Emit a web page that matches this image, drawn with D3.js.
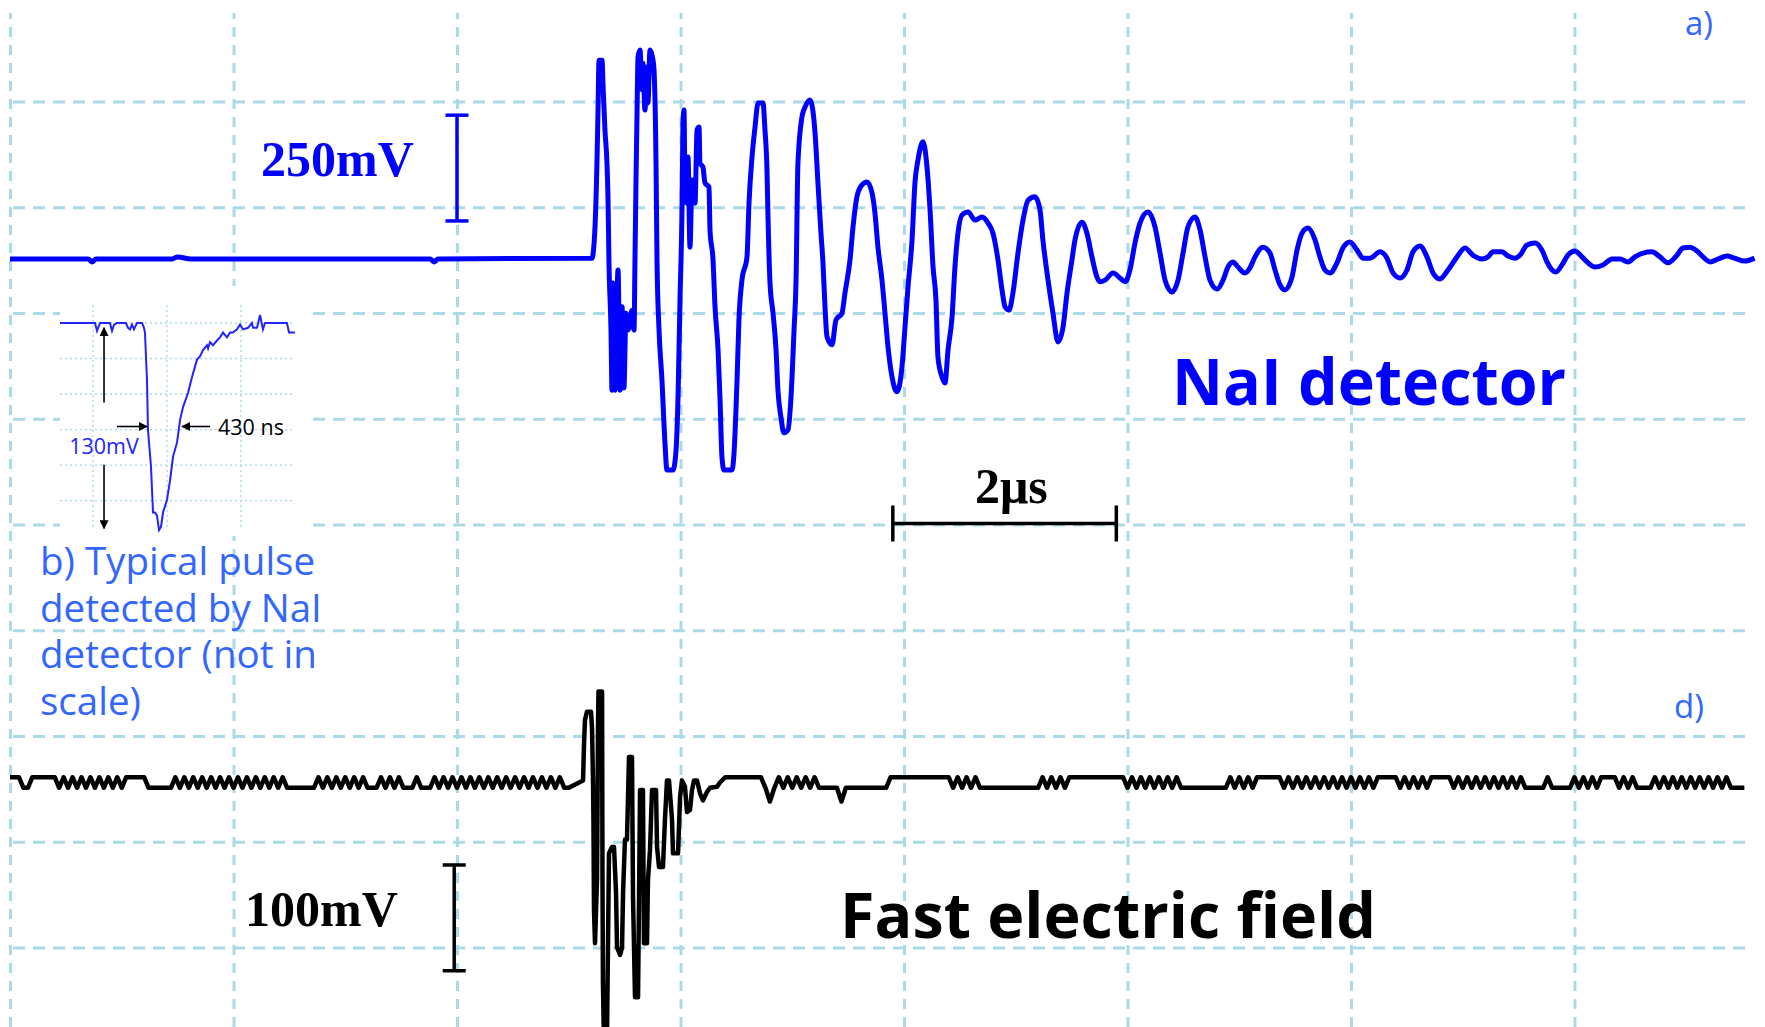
<!DOCTYPE html>
<html>
<head>
<meta charset="utf-8">
<script src="https://cdn.jsdelivr.net/npm/d3@7"></script>
<style>
  body { margin: 0; background: #fff; }
  svg { display: block; }
</style>
</head>
<body>
<script>
// NaI detector record: [time in µs, mV]
var naiTrace = [
  [0,0],[0.70,0],[0.734,-7],[0.77,0],[1.45,0],[1.50,5],[1.62,0],[3.76,0],[3.794,-7],[3.83,0],[5.208,2],
  [5.235,76],[5.253,234],[5.262,352],[5.271,470],[5.298,470],[5.306,416],[5.324,305],[5.342,227],[5.351,147],
  [5.360,-9],[5.378,-168],[5.387,-310],[5.396,-57],[5.414,-310],[5.441,-26],[5.459,-310],[5.477,-113],[5.494,-305],
  [5.512,-128],[5.530,-168],[5.566,-121],[5.584,-168],[5.593,5],[5.602,187],[5.611,345],[5.620,478],[5.638,494],
  [5.655,400],[5.664,463],[5.682,352],[5.700,454],[5.709,369],[5.727,494],[5.754,470],[5.763,447],[5.781,227],
  [5.790,-9],[5.808,-168],[5.834,-286],[5.861,-435],[5.879,-499],[5.933,-499],[5.960,-452],[5.978,-326],[5.996,-90],
  [6.013,109],[6.022,321],[6.031,352],[6.040,187],[6.058,132],[6.067,241],[6.085,28],[6.103,187],[6.130,132],
  [6.148,305],[6.166,312],[6.174,227],[6.201,217],[6.219,180],[6.255,170],[6.264,69],[6.291,-2],[6.309,-113],
  [6.336,-215],[6.353,-326],[6.371,-468],[6.389,-499],[6.461,-499],[6.479,-459],[6.506,-286],[6.523,-144],
  [6.550,-50],[6.595,5],[6.613,132],[6.640,241],[6.667,312],[6.694,369],[6.738,369],[6.756,305],[6.774,210],
  [6.783,99],[6.801,-57],[6.828,-128],[6.855,-215],[6.872,-310],[6.899,-374],[6.926,-411],[6.962,-404],
  [6.989,-326],[7.016,-168],[7.034,-50],[7.051,227],[7.087,336],[7.114,359],[7.159,376],[7.204,298],[7.230,180],
  [7.257,61],[7.275,-9],[7.293,-113],[7.311,-184],[7.356,-203],[7.391,-144],[7.445,-128],[7.472,-80],[7.517,-2],
  [7.544,76],[7.579,147],[7.624,175],[7.669,182],[7.714,156],[7.740,109],[7.767,28],[7.803,-50],[7.830,-128],
  [7.857,-208],[7.893,-279],[7.937,-314],[7.982,-255],[8.009,-161],[8.036,-66],[8.072,45],[8.098,180],[8.125,234],
  [8.170,277],[8.206,217],[8.233,116],[8.260,-19],[8.286,-97],[8.304,-232],[8.340,-279],[8.367,-293],[8.394,-215],
  [8.430,-137],[8.456,-19],[8.483,61],[8.519,104],[8.573,111],[8.635,92],[8.698,99],[8.752,85],[8.796,61],
  [8.841,-2],[8.877,-73],[8.904,-113],[8.940,-121],[8.975,-80],[9.020,14],[9.065,92],[9.110,139],[9.172,147],
  [9.217,116],[9.243,45],[9.289,-50],[9.333,-128],[9.378,-196],[9.423,-161],[9.459,-80],[9.503,-2],[9.530,45],
  [9.593,87],[9.637,61],[9.682,5],[9.727,-43],[9.754,-54],[9.799,-50],[9.870,-33],[9.933,-45],[9.978,-54],
  [10.022,-26],[10.067,38],[10.112,85],[10.183,111],[10.246,76],[10.291,14],[10.336,-50],[10.398,-78],
  [10.452,-50],[10.497,14],[10.541,76],[10.604,99],[10.649,69],[10.694,5],[10.738,-50],[10.801,-71],[10.855,-50],
  [10.899,-19],[10.944,-7],[10.989,-19],[11.051,-33],[11.096,-21],[11.141,5],[11.213,28],[11.275,14],[11.320,-26],
  [11.365,-61],[11.409,-73],[11.472,-43],[11.517,21],[11.561,61],[11.615,73],[11.678,45],[11.722,5],[11.767,-26],
  [11.812,-33],[11.875,-9],[11.928,26],[11.991,40],[12.054,21],[12.107,2],[12.170,2],[12.260,17],[12.322,2],
  [12.376,-33],[12.438,-45],[12.501,-26],[12.555,17],[12.617,31],[12.680,5],[12.734,-33],[12.796,-47],[12.868,-26],
  [12.949,5],[13.020,26],[13.091,9],[13.172,0],[13.226,5],[13.271,17],[13.351,17],[13.405,7],[13.468,2],
  [13.512,9],[13.575,33],[13.647,38],[13.709,21],[13.754,-7],[13.799,-26],[13.834,-31],[13.888,-14],[13.941,9],
  [14.004,19],[14.067,5],[14.121,-9],[14.183,-19],[14.255,-14],[14.336,0],[14.407,0],[14.479,-7],[14.541,5],
  [14.613,14],[14.693,17],[14.765,5],[14.836,-9],[14.917,9],[14.970,26],[15.034,28],[15.096,19],[15.150,5],
  [15.213,-7],[15.284,0],[15.365,7],[15.432,2],[15.522,-5],[15.611,2]
]

// fast electric field burst: [time in µs, mV]
var fieldBurst = [
  [5.128,2],[5.136,34],[5.145,59],[5.163,67],[5.199,67],[5.208,52],[5.217,2],[5.221,-35],[5.226,-121],[5.235,-152],
  [5.253,-92],[5.262,52],[5.266,86],[5.298,86],[5.302,-92],[5.306,-190],[5.315,-243],[5.342,-243],[5.351,-156],
  [5.360,-67],[5.387,-61],[5.405,-61],[5.423,-104],[5.432,-156],[5.459,-163],[5.477,-156],[5.486,-104],[5.503,-54],
  [5.521,-54],[5.539,24],[5.566,24],[5.575,-108],[5.593,-203],[5.620,-203],[5.629,-108],[5.638,-7],[5.664,-7],
  [5.673,-152],[5.700,-152],[5.709,-92],[5.727,-64],[5.745,-7],[5.781,-7],[5.790,-61],[5.808,-80],[5.843,-80],
  [5.861,-35],[5.879,2],[5.897,2],[5.924,-35],[5.933,-67],[5.978,-67],[5.996,-14],[6.013,2],[6.040,-4],
  [6.058,-28],[6.085,-26],[6.103,-7],[6.121,2],[6.148,2],[6.174,-10],[6.201,-17],[6.237,-9],[6.264,-5],
  [6.327,-4],[6.353,0]
]

// field noise, one sample every 0.04 µs (H = +5 mV, L = -5 mV, D = -18 mV)
var fieldNoiseBefore =            // from 0 µs
  "HHHLLHHHHHHLHLHLHLHLHLHLHLHHHHHLLLLLLHLHLHLHLHLHLHLHLHLHLHLHLHLLLLLLL" +
  "HLHLHLHLHLHLLLHLHLHLLLHLLLHLHLHLHLHLHLHLHLHLHLHLHLHLHLHLL"
var fieldNoiseAfter =             // from 6.4 µs
  "HHHHHHHHHLDLHLHLHLHLHLLLLLDLLLLLLLLLLHHHHHHHHHHHHHHLHLHLHLLLLLLLLLLLLLL" +
  "HLHLHLHHHHHHHHHHHHHLHLHLHLHLHLHLLLLLLLLLLLHLHLHLHHHHHHLHLHLHLHLHLHLHLHLHLHLH" +
  "HHHHLHLHLHLHHHHHLHLHLHLHLHLHLHLHLLLLLHLLLLLHLHLHLHHHHLHLHLLLLHLHLHLHLHLHLHLHLHLLLL"
var noiseLevels = { H: 5, L: -5, D: -18 }
var sampleStep = 0.04
var afterStart = 6.4

// inset b): typical NaI pulse, [time in ns, mV]
var insetPulse = [
  [0,0],[430,0],[455,-5],[492,0],[614,0],[639,-5],[664,-1],[700,0],[811,0],[836,-3],[860,-4],[885,-1],
  [909,-4],[946,0],[1008,0],[1032,-3],[1044,-6],[1069,-36],[1081,-67],[1118,-90],[1143,-119],[1167,-119],
  [1192,-121],[1217,-130],[1241,-128],[1266,-119],[1315,-111],[1352,-99],[1389,-84],[1438,-75],[1475,-61],
  [1511,-53],[1573,-44],[1622,-34],[1683,-23],[1720,-21],[1757,-17],[1806,-14],[1819,-16],[1843,-12],
  [1880,-14],[1929,-11],[1966,-9],[2003,-6],[2052,-9],[2089,-6],[2126,-6],[2175,-4],[2212,-1],[2249,-4],
  [2310,-3],[2359,0],[2372,-3],[2421,-3],[2458,5],[2494,-4],[2519,0],[2789,0],[2814,-6],[2888,-6]
]
var insetXTicks = [406, 1315, 2224]
var insetYTicks = [0, -22.3, -44.6, -66.9, -89.2, -111.5]

// oscilloscope graticule
var gridTimes = [0, 2, 4, 6, 8, 10, 12, 14]   // µs
var gridDivs = [0, 1, 2, 3, 4, 5, 6, 7, 8]

var width = 1765
var height = 1027

var svg = d3.select("body").append("svg")
  .attr("width", width)
  .attr("height", height)

var defs = svg.append("defs")
defs.append("marker")
  .attr("id", "head")
  .attr("viewBox", "0 0 10 10")
  .attr("refX", 9).attr("refY", 5)
  .attr("markerWidth", 9).attr("markerHeight", 9)
  .attr("markerUnits", "userSpaceOnUse")
  .attr("orient", "auto")
  .append("path").attr("d", "M0,0 L10,5 L0,10 z").attr("fill", "#000")

// scales
var x = d3.scaleLinear().domain([0, 16]).range([10, 1798])
var yDiv = d3.scaleLinear().domain([0, 8]).range([101.5, 947.5])
var yNaI = d3.scaleLinear().domain([0, 250]).range([259, 153.25])
var yField = d3.scaleLinear().domain([0, 100]).range([782.5, 676.75])

var gridColor = "#acd9e6"

// vertical grid
var gx = svg.append("g")
  .attr("transform", "translate(0," + height + ")")
  .call(d3.axisTop(x).tickValues(gridTimes).tickSize(height - 13).tickFormat(""))
gx.select(".domain").remove()
gx.selectAll("line")
  .attr("stroke", gridColor)
  .attr("stroke-width", 3)
  .attr("stroke-dasharray", "10,8")

// horizontal grid
var gy = svg.append("g")
  .attr("transform", "translate(13,0)")
  .call(d3.axisLeft(yDiv).tickValues(gridDivs).tickSize(-(1750 - 13)).tickFormat(""))
gy.select(".domain").remove()
gy.selectAll("line")
  .attr("stroke", gridColor)
  .attr("stroke-width", 3)
  .attr("stroke-dasharray", "12,8")

// NaI trace
var naiLine = d3.line()
  .x(d => x(d[0]))
  .y(d => yNaI(d[1]))
  .curve(d3.curveMonotoneX)

svg.append("path")
  .datum(naiTrace)
  .attr("d", naiLine)
  .attr("fill", "none")
  .attr("stroke", "#0000ff")
  .attr("stroke-width", 5)
  .attr("stroke-linejoin", "round")

// fast electric field trace
var fieldData = []
fieldNoiseBefore.split("").forEach(function (c, i) {
  fieldData.push([i * sampleStep, noiseLevels[c]])
})
fieldBurst.forEach(function (d) { fieldData.push(d) })
fieldNoiseAfter.split("").forEach(function (c, i) {
  fieldData.push([afterStart + i * sampleStep, noiseLevels[c]])
})

var fieldLine = d3.line()
  .x(d => x(d[0]))
  .y(d => yField(d[1]))

svg.append("path")
  .datum(fieldData)
  .attr("d", fieldLine)
  .attr("fill", "none")
  .attr("stroke", "#000")
  .attr("stroke-width", 4.5)
  .attr("stroke-linejoin", "round")

// scale bars
function vBar(xPos, yTop, yBottom, color) {
  var g = svg.append("g").attr("stroke", color).attr("stroke-width", 3.5)
  g.append("line").attr("x1", xPos).attr("x2", xPos).attr("y1", yTop).attr("y2", yBottom)
  g.append("line").attr("x1", xPos - 11.5).attr("x2", xPos + 11.5).attr("y1", yTop).attr("y2", yTop)
  g.append("line").attr("x1", xPos - 11.5).attr("x2", xPos + 11.5).attr("y1", yBottom).attr("y2", yBottom)
}
vBar(x(4.0), yNaI(340), yNaI(90), "#0000ff")
vBar(x(3.975), yField(-78), yField(-178), "#000")

var hb = svg.append("g").attr("stroke", "#000").attr("stroke-width", 3.5)
var barY = yDiv(4) - 1
hb.append("line").attr("x1", x(7.9)).attr("x2", x(9.9)).attr("y1", barY).attr("y2", barY)
hb.append("line").attr("x1", x(7.9)).attr("x2", x(7.9)).attr("y1", barY - 18).attr("y2", barY + 18)
hb.append("line").attr("x1", x(9.9)).attr("x2", x(9.9)).attr("y1", barY - 18).attr("y2", barY + 18)

var serif = "'Liberation Serif', 'Times New Roman', serif"
var sans = "'Open Sans', 'Noto Sans', sans-serif"

svg.append("text").attr("x", 261).attr("y", 176)
  .attr("font-family", serif).attr("font-weight", "bold").attr("font-size", 50)
  .attr("fill", "#0000ff").text("250mV")
svg.append("text").attr("x", 245).attr("y", 926)
  .attr("font-family", serif).attr("font-weight", "bold").attr("font-size", 50)
  .attr("fill", "#000").text("100mV")
svg.append("text").attr("x", 975).attr("y", 503)
  .attr("font-family", serif).attr("font-weight", "bold").attr("font-size", 50)
  .attr("fill", "#000").text("2\u03bcs")

svg.append("text").attr("x", 1172).attr("y", 405)
  .attr("font-family", sans).attr("font-weight", "bold").attr("font-size", 65)
  .attr("textLength", 394).attr("lengthAdjust", "spacingAndGlyphs")
  .attr("fill", "#0000ff").text("NaI detector")
svg.append("text").attr("x", 840).attr("y", 938)
  .attr("font-family", sans).attr("font-weight", "bold").attr("font-size", 62)
  .attr("textLength", 536).attr("lengthAdjust", "spacingAndGlyphs")
  .attr("fill", "#000").text("Fast electric field")

svg.append("text").attr("x", 1685).attr("y", 35)
  .attr("font-family", sans).attr("font-size", 33).attr("fill", "#3366ff").text("a)")
svg.append("text").attr("x", 1674).attr("y", 718)
  .attr("font-family", sans).attr("font-size", 33).attr("fill", "#3366ff").text("d)")

// inset b)
var insetX = d3.scaleLinear().domain([0, 2900]).range([60, 296])
var insetY = d3.scaleLinear().domain([0, -130]).range([323, 530])

svg.append("rect").attr("x", 60).attr("y", 286).attr("width", 245).attr("height", 250).attr("fill", "#fff")

var ig = svg.append("g").attr("stroke", "#a9d6e6").attr("stroke-width", 1.3).attr("stroke-dasharray", "2,3")
ig.selectAll(".iv").data(insetXTicks).enter().append("line")
  .attr("x1", d => insetX(d)).attr("x2", d => insetX(d))
  .attr("y1", 305).attr("y2", 530)
ig.selectAll(".ih").data(insetYTicks).enter().append("line")
  .attr("x1", 60).attr("x2", 293)
  .attr("y1", d => insetY(d)).attr("y2", d => insetY(d))

var insetLine = d3.line()
  .x(d => insetX(d[0]))
  .y(d => insetY(d[1]))

svg.append("path")
  .datum(insetPulse)
  .attr("d", insetLine)
  .attr("fill", "none")
  .attr("stroke", "#2323ff")
  .attr("stroke-width", 2)

var arrows = svg.append("g").attr("stroke", "#000").attr("stroke-width", 1.6)
arrows.append("line").attr("x1", insetX(541)).attr("x2", insetX(541))
  .attr("y1", insetY(-50)).attr("y2", insetY(-3)).attr("marker-end", "url(#head)")
arrows.append("line").attr("x1", insetX(541)).attr("x2", insetX(541))
  .attr("y1", insetY(-89)).attr("y2", insetY(-129)).attr("marker-end", "url(#head)")
arrows.append("line").attr("x1", insetX(700)).attr("x2", insetX(1069))
  .attr("y1", insetY(-65)).attr("y2", insetY(-65)).attr("marker-end", "url(#head)")
arrows.append("line").attr("x1", insetX(1843)).attr("x2", insetX(1500))
  .attr("y1", insetY(-65)).attr("y2", insetY(-65)).attr("marker-end", "url(#head)")

svg.append("text").attr("x", insetX(541)).attr("y", 454)
  .attr("text-anchor", "middle")
  .attr("font-family", sans).attr("font-size", 21.5).attr("fill", "#2323ff").text("130mV")
svg.append("text").attr("x", 218).attr("y", 435)
  .attr("font-family", sans).attr("font-size", 21.5).attr("fill", "#000").text("430 ns")

var captionLines = ["b) Typical pulse", "detected by NaI", "detector (not in", "scale)"]
svg.append("g").selectAll("text").data(captionLines).enter().append("text")
  .attr("x", 40)
  .attr("y", (d, i) => 575 + i * 46.7)
  .attr("font-family", sans).attr("font-size", 38.5)
  .attr("fill", "#3366ff")
  .text(d => d)
</script>
</body>
</html>
